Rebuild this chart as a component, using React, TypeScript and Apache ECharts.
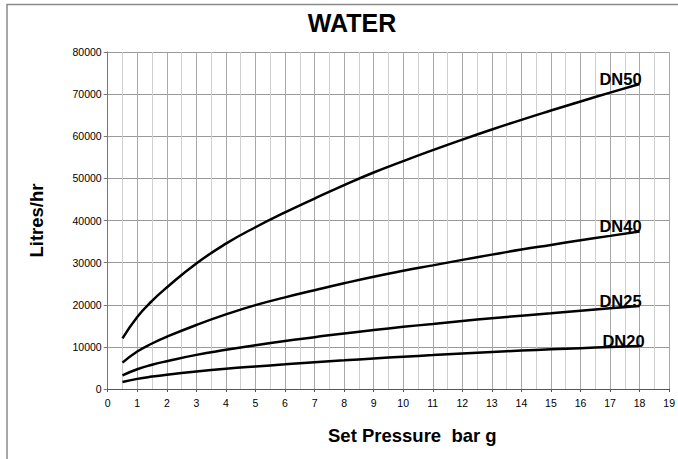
import React, { useEffect, useRef } from "react";
import * as echarts from "echarts";

const pressures = [0.5, 1, 1.5, 2, 3, 4, 5, 6, 7, 8, 9, 10, 11, 12, 13, 14, 15, 16, 17, 18];
const dn50 = [12000, 17100, 20900, 24100, 29800, 34500, 38400, 41900, 45200, 48400, 51400, 54100, 56700, 59200, 61600, 63900, 66100, 68250, 70350, 72400];
const dn40 = [6250, 8900, 10800, 12400, 15200, 17700, 19900, 21750, 23450, 25100, 26650, 28050, 29350, 30650, 31900, 33100, 34200, 35300, 36350, 37400];
const dn25 = [3250, 4700, 5750, 6600, 8100, 9300, 10400, 11400, 12300, 13200, 14000, 14750, 15450, 16150, 16800, 17400, 18000, 18600, 19150, 19700];
const dn20 = [1650, 2400, 2950, 3400, 4150, 4800, 5350, 5850, 6350, 6800, 7250, 7650, 8050, 8450, 8800, 9120, 9420, 9700, 9960, 10200];
const seriesNames = ["DN50", "DN40", "DN25", "DN20"];
const seriesValues = [dn50, dn40, dn25, dn20];

const FONT = "'Liberation Sans', Arial, sans-serif";

export default function App() {
  const ref = useRef<HTMLDivElement>(null);
  useEffect(() => {
    if (!ref.current) return;
    const chart = echarts.init(ref.current, undefined, { renderer: "svg" });
    chart.setOption({
      animation: false,
      backgroundColor: "#ffffff",
      textStyle: { fontFamily: FONT },
      grid: { left: 107.7, right: 4.5, top: 52, bottom: 70, containLabel: false },
      graphic: [
        {
          type: "rect",
          shape: { x: 7, y: 4.5, width: 800, height: 600 },
          style: { fill: "none", stroke: "#8a8a8a", lineWidth: 1.5 },
          silent: true,
        },
        {
          type: "text",
          x: 352,
          y: 23,
          style: {
            text: "WATER",
            fontFamily: FONT,
            fontWeight: "bold",
            fontSize: 25,
            fill: "#000",
            align: "center",
            verticalAlign: "middle",
          },
        },
        {
          type: "text",
          x: 328,
          y: 435,
          style: {
            text: "Set Pressure  bar g",
            fontFamily: FONT,
            fontWeight: "bold",
            fontSize: 18.5,
            fill: "#000",
            align: "left",
            verticalAlign: "middle",
          },
        },
      ],
      xAxis: {
        type: "value",
        min: 0,
        max: 19,
        interval: 1,
        axisLine: { show: true, onZero: false, lineStyle: { color: "#555", width: 1 } },
        axisTick: { show: true, length: 3, lineStyle: { color: "#555" } },
        axisLabel: { fontSize: 10.5, color: "#000", margin: 8, fontFamily: FONT },
        splitLine: { show: true, lineStyle: { color: "#a8a8a8", width: 1 } },
        minorTick: { show: false, splitNumber: 2 },
        minorSplitLine: { show: true, lineStyle: { color: "#cfcfcf", width: 1 } },
      },
      yAxis: {
        type: "value",
        min: 0,
        max: 80000,
        interval: 10000,
        name: "Litres/hr",
        nameLocation: "middle",
        nameGap: 62,
        nameTextStyle: { fontFamily: FONT, fontWeight: "bold", fontSize: 18.5, color: "#000" },
        axisLine: { show: true, lineStyle: { color: "#777", width: 1 } },
        axisTick: { show: true, length: 4, lineStyle: { color: "#777" } },
        axisLabel: {
          fontSize: 10.5,
          color: "#000",
          margin: 6,
          fontFamily: FONT,
          formatter: (v: number) => String(v),
        },
        splitLine: { show: true, lineStyle: { color: "#999", width: 1 } },
      },
      series: seriesNames.map((name, i) => ({
        name,
        type: "line",
        smooth: 0.5,
        showSymbol: false,
        symbol: "none",
        lineStyle: { color: "#000", width: 2.5 },
        data: pressures.map((p, j) => [p, seriesValues[i][j]]),
        endLabel: {
          show: true,
          formatter: name,
          fontFamily: FONT,
          fontWeight: "bold",
          fontSize: 16.5,
          color: "#000",
          align: "right",
          verticalAlign: "bottom",
          distance: 0,
          offset: [name === "DN20" ? 5 : 2, 3],
        },
      })),
    });
    return () => chart.dispose();
  }, []);
  return (
    <div
      ref={ref}
      style={{ position: "fixed", left: 0, top: 0, width: 678, height: 459 }}
    />
  );
}
